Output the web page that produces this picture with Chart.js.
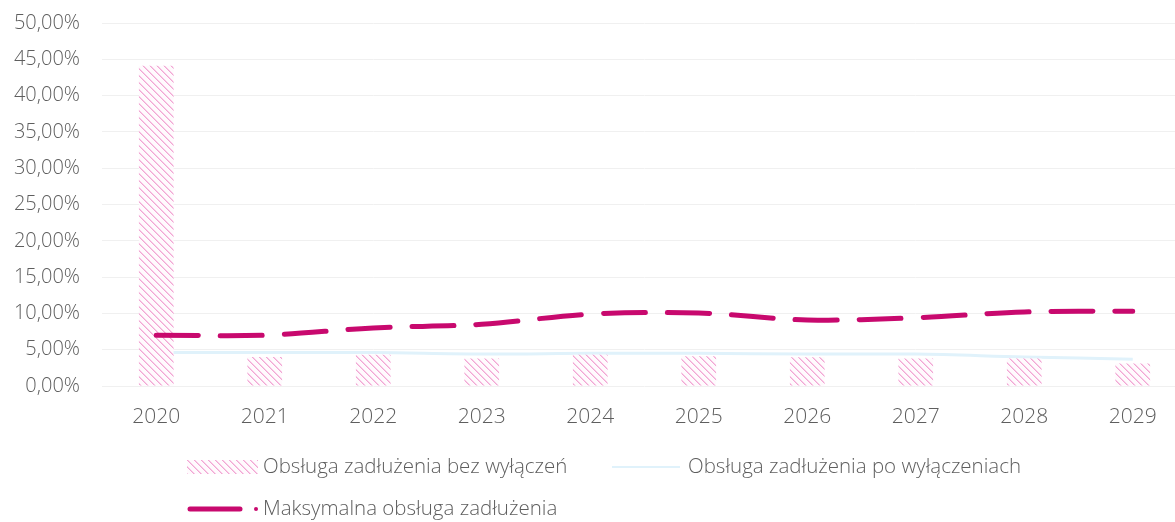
<!DOCTYPE html>
<html>
<head>
<meta charset="utf-8">
<script src="https://cdn.jsdelivr.net/npm/chart.js@4.4.1/dist/chart.umd.min.js"></script>
<style>
  html, body { margin: 0; padding: 0; background: #ffffff; overflow: hidden; }
  #wrap { width: 1195px; height: 522px; position: relative; }
</style>
</head>
<body>
<div id="wrap"><canvas id="c" width="1195" height="522"></canvas></div>
<script>
const categories = ['2020', '2021', '2022', '2023', '2024', '2025', '2026', '2027', '2028', '2029'];
const bezWylaczen = [44.1, 4.0, 4.3, 3.8, 4.3, 4.1, 3.95, 3.8, 3.8, 3.1];
const poWylaczeniach = [4.6, 4.6, 4.6, 4.4, 4.5, 4.5, 4.4, 4.4, 4.0, 3.7];
const maksymalna = [7.0, 7.0, 8.0, 8.5, 9.9, 10.05, 9.1, 9.4, 10.2, 10.3];
const seriesLabels = ['Obsługa zadłużenia bez wyłączeń', 'Obsługa zadłużenia po wyłączeniach', 'Maksymalna obsługa zadłużenia'];
const yMin = 0, yMax = 50, yStep = 5;

const TEXT = '#5e5e5e';
const FONT = '"Open Sans", "DejaVu Sans", sans-serif';
const WEIGHT = '300';
const MAGENTA = '#c8096e';
const LIGHTBLUE = '#e0f2fb';

function makeStripe() {
  const s = 7;
  const c = document.createElement('canvas');
  c.width = s; c.height = s;
  const x = c.getContext('2d');
  x.fillStyle = '#fffafd';
  x.fillRect(0, 0, s, s);
  for (let i = 0; i < s; i++) {
    for (let j = 0; j < s; j++) {
      const d = ((i - j) % s + s) % s;
      if (d === 0) { x.fillStyle = '#f2a6d4'; x.fillRect(i, j, 1, 1); }
      else if (d === 1) { x.fillStyle = '#f8cde7'; x.fillRect(i, j, 1, 1); }
    }
  }
  return c;
}
const stripeCanvas = makeStripe();
const ctx0 = document.getElementById('c').getContext('2d');
const stripePattern = ctx0.createPattern(stripeCanvas, 'repeat');

const legendPlugin = {
  id: 'customLegend',
  afterDraw(chart) {
    const ctx = chart.ctx;
    const ds = chart.data.datasets;
    ctx.save();
    ctx.font = WEIGHT + ' 20.5px ' + FONT;
    ctx.fillStyle = TEXT;
    ctx.textBaseline = 'middle';
    ctx.textAlign = 'left';
    const y1 = 467;
    ctx.fillStyle = stripePattern;
    ctx.fillRect(187, y1 - 7, 71, 14);
    ctx.fillStyle = TEXT;
    ctx.fillText(ds[0].label, 263, y1);
    ctx.strokeStyle = LIGHTBLUE;
    ctx.lineWidth = 2;
    ctx.beginPath(); ctx.moveTo(612, y1); ctx.lineTo(680, y1); ctx.stroke();
    ctx.fillStyle = TEXT;
    ctx.fillText(ds[1].label, 688, y1);
    const y2 = 509;
    ctx.strokeStyle = MAGENTA;
    ctx.lineWidth = 5;
    ctx.lineCap = 'round';
    ctx.beginPath(); ctx.moveTo(190, y2); ctx.lineTo(240, y2); ctx.stroke();
    ctx.fillStyle = MAGENTA;
    ctx.beginPath(); ctx.arc(256, y2, 2, 0, Math.PI * 2); ctx.fill();
    ctx.fillStyle = TEXT;
    ctx.fillText(ds[2].label, 263, y2);
    ctx.restore();
  }
};

new Chart(document.getElementById('c'), {
  data: {
    labels: categories,
    datasets: [
      {
        type: 'bar',
        label: seriesLabels[0],
        data: bezWylaczen,
        backgroundColor: stripePattern,
        borderWidth: 0,
        categoryPercentage: 0.64,
        barPercentage: 0.5,
        order: 1
      },
      {
        type: 'line',
        label: seriesLabels[1],
        data: poWylaczeniach,
        borderColor: LIGHTBLUE,
        borderWidth: 3,
        tension: 0.35,
        pointRadius: 0,
        fill: false,
        order: 2
      },
      {
        type: 'line',
        label: seriesLabels[2],
        data: maksymalna,
        borderColor: MAGENTA,
        borderWidth: 5,
        borderDash: [42, 22],
        borderCapStyle: 'round',
        tension: 0.35,
        pointRadius: 0,
        fill: false,
        order: 0
      }
    ]
  },
  options: {
    responsive: false,
    animation: false,
    devicePixelRatio: 1,
    layout: { padding: { top: 23, right: 8, left: 0, bottom: 0 } },
    plugins: {
      legend: { display: false },
      tooltip: { enabled: false }
    },
    scales: {
      x: {
        offset: true,
        grid: { display: false, drawTicks: false },
        border: { display: false },
        ticks: { color: TEXT, font: { size: 21, family: FONT, weight: WEIGHT }, padding: 18, maxRotation: 0 },
        afterFit(scale) { scale.height = 136; }
      },
      y: {
        min: yMin,
        max: yMax,
        grid: { color: '#f0f0f0', lineWidth: 1, drawTicks: false },
        border: { display: false },
        ticks: {
          stepSize: yStep,
          color: TEXT,
          font: { size: 20, family: FONT, weight: WEIGHT, lineHeight: 1 },
          padding: 22,
          callback: v => v.toFixed(2).replace('.', ',') + '%'
        },
        afterFit(scale) { scale.width = 102; scale.paddingTop = 0; }
      }
    }
  },
  plugins: [legendPlugin]
});
</script>
</body>
</html>
